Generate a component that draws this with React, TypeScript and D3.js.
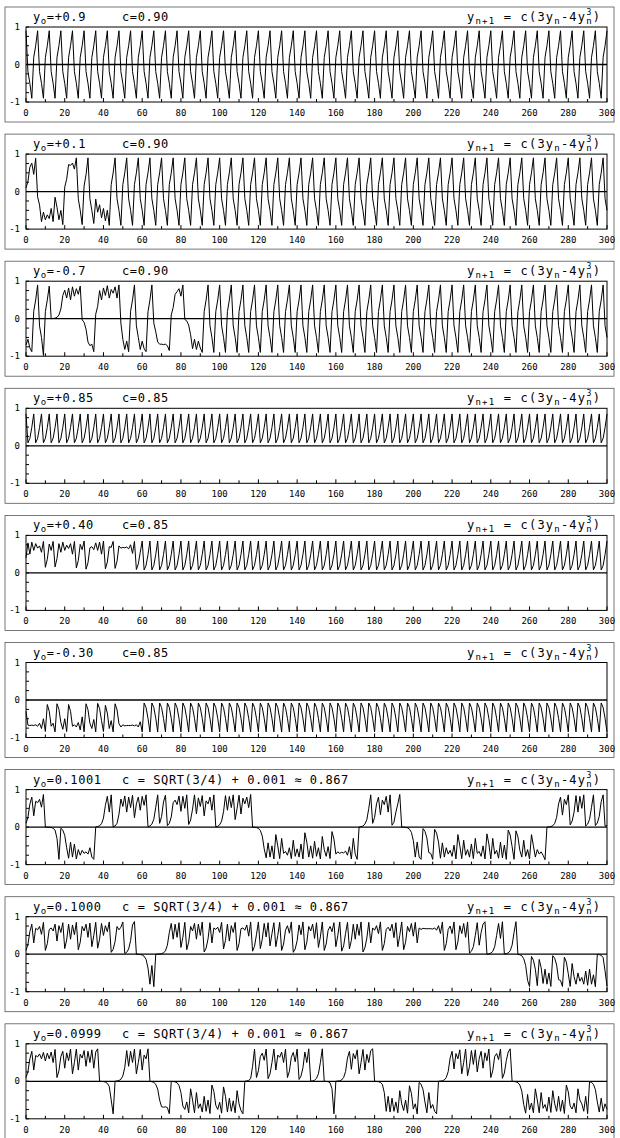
import React from "react";
import * as d3 from "d3";

// Iterates of the cubic map y(n+1) = c(3y(n) - 4y(n)^3), n = 0..300, one array per panel.

// y0 = +0.9, c = 0.90
const Y1: number[] = [
  .9,-.19,-.5,-.9,.19,.5,.9,-.19,-.5,-.9,
  .19,.5,.9,-.19,-.5,-.9,.19,.5,.9,-.19,
  -.5,-.9,.19,.5,.9,-.19,-.5,-.9,.19,.5,
  .9,-.19,-.5,-.9,.19,.5,.9,-.19,-.5,-.9,
  .19,.5,.9,-.19,-.5,-.9,.19,.5,.9,-.19,
  -.5,-.9,.19,.5,.9,-.19,-.5,-.9,.19,.5,
  .9,-.19,-.5,-.9,.19,.5,.9,-.19,-.5,-.9,
  .19,.5,.9,-.19,-.5,-.9,.19,.5,.9,-.19,
  -.5,-.9,.19,.5,.9,-.19,-.5,-.9,.19,.5,
  .9,-.19,-.5,-.9,.19,.5,.9,-.19,-.5,-.9,
  .19,.5,.9,-.19,-.5,-.9,.19,.5,.9,-.19,
  -.5,-.9,.19,.5,.9,-.19,-.5,-.9,.19,.5,
  .9,-.19,-.5,-.9,.19,.5,.9,-.19,-.5,-.9,
  .19,.5,.9,-.19,-.5,-.9,.19,.5,.9,-.19,
  -.5,-.9,.19,.5,.9,-.19,-.5,-.9,.19,.5,
  .9,-.19,-.5,-.9,.19,.5,.9,-.19,-.5,-.9,
  .19,.5,.9,-.19,-.5,-.9,.19,.5,.9,-.19,
  -.5,-.9,.19,.5,.9,-.19,-.5,-.9,.19,.5,
  .9,-.19,-.5,-.9,.19,.5,.9,-.19,-.5,-.9,
  .19,.5,.9,-.19,-.5,-.9,.19,.5,.9,-.19,
  -.5,-.9,.19,.5,.9,-.19,-.5,-.9,.19,.5,
  .9,-.19,-.5,-.9,.19,.5,.9,-.19,-.5,-.9,
  .19,.5,.9,-.19,-.5,-.9,.19,.5,.9,-.19,
  -.5,-.9,.19,.5,.9,-.19,-.5,-.9,.19,.5,
  .9,-.19,-.5,-.9,.19,.5,.9,-.19,-.5,-.9,
  .19,.5,.9,-.19,-.5,-.9,.19,.5,.9,-.19,
  -.5,-.9,.19,.5,.9,-.19,-.5,-.9,.19,.5,
  .9,-.19,-.5,-.9,.19,.5,.9,-.19,-.5,-.9,
  .19,.5,.9,-.19,-.5,-.9,.19,.5,.9,-.19,
  -.5,-.9,.19,.5,.9,-.19,-.5,-.9,.19,.5,
  .9,
];

// y0 = +0.1, c = 0.90
const Y2: number[] = [
  .1,.27,.65,.76,.46,.89,-.14,-.36,-.8,-.55,
  -.75,-.62,-.72,-.45,-.8,-.15,-.42,-.75,-.5,-.88,
  .12,.33,.72,.7,.76,.6,.9,-.19,-.5,-.88,
  .15,.45,.9,-.19,-.5,-.85,-.2,-.55,-.35,-.7,
  -.45,-.78,-.5,-.9,.19,.5,.9,-.19,-.5,-.9,
  .19,.5,.9,-.19,-.5,-.9,.19,.5,.9,-.19,
  -.5,-.9,.19,.5,.9,-.19,-.5,-.9,.19,.5,
  .9,-.19,-.5,-.9,.19,.5,.9,-.19,-.5,-.9,
  .19,.5,.9,-.19,-.5,-.9,.19,.5,.9,-.19,
  -.5,-.9,.19,.5,.9,-.19,-.5,-.9,.19,.5,
  .9,-.19,-.5,-.9,.19,.5,.9,-.19,-.5,-.9,
  .19,.5,.9,-.19,-.5,-.9,.19,.5,.9,-.19,
  -.5,-.9,.19,.5,.9,-.19,-.5,-.9,.19,.5,
  .9,-.19,-.5,-.9,.19,.5,.9,-.19,-.5,-.9,
  .19,.5,.9,-.19,-.5,-.9,.19,.5,.9,-.19,
  -.5,-.9,.19,.5,.9,-.19,-.5,-.9,.19,.5,
  .9,-.19,-.5,-.9,.19,.5,.9,-.19,-.5,-.9,
  .19,.5,.9,-.19,-.5,-.9,.19,.5,.9,-.19,
  -.5,-.9,.19,.5,.9,-.19,-.5,-.9,.19,.5,
  .9,-.19,-.5,-.9,.19,.5,.9,-.19,-.5,-.9,
  .19,.5,.9,-.19,-.5,-.9,.19,.5,.9,-.19,
  -.5,-.9,.19,.5,.9,-.19,-.5,-.9,.19,.5,
  .9,-.19,-.5,-.9,.19,.5,.9,-.19,-.5,-.9,
  .19,.5,.9,-.19,-.5,-.9,.19,.5,.9,-.19,
  -.5,-.9,.19,.5,.9,-.19,-.5,-.9,.19,.5,
  .9,-.19,-.5,-.9,.19,.5,.9,-.19,-.5,-.9,
  .19,.5,.9,-.19,-.5,-.9,.19,.5,.9,-.19,
  -.5,-.9,.19,.5,.9,-.19,-.5,-.9,.19,.5,
  .9,-.19,-.5,-.9,.19,.5,.9,-.19,-.5,-.9,
  .19,.5,.9,-.19,-.5,-.9,.19,.5,.9,-.19,
  -.5,
];

// y0 = -0.7, c = 0.90
const Y3: number[] = [
  -.7,-.55,-.78,-.88,.2,.5,.9,-.2,-.5,-.98,
  .19,.5,.87,.002,.005,.014,.037,.1,.26,.62,
  .76,.55,.82,.5,.85,.6,.8,.65,.87,-.03,
  -.1,-.28,-.62,-.72,-.68,-.88,.12,.33,.75,.5,
  .82,.62,.88,.55,.78,.68,.85,.55,.9,-.12,
  -.55,-.82,-.6,-.88,.2,.5,.9,-.19,-.5,-.82,
  -.6,-.8,-.88,.19,.5,.9,-.12,-.35,-.62,-.68,
  -.68,-.69,-.68,-.72,-.85,.1,.3,.65,.72,.8,
  .6,.9,-.02,-.06,-.17,-.43,-.8,-.55,-.82,-.6,
  -.78,-.9,.19,.5,.9,-.19,-.5,-.9,.19,.5,
  .9,-.19,-.5,-.9,.19,.5,.9,-.19,-.5,-.9,
  .19,.5,.9,-.19,-.5,-.9,.19,.5,.9,-.19,
  -.5,-.9,.19,.5,.9,-.19,-.5,-.9,.19,.5,
  .9,-.19,-.5,-.9,.19,.5,.9,-.19,-.5,-.9,
  .19,.5,.9,-.19,-.5,-.9,.19,.5,.9,-.19,
  -.5,-.9,.19,.5,.9,-.19,-.5,-.9,.19,.5,
  .9,-.19,-.5,-.9,.19,.5,.9,-.19,-.5,-.9,
  .19,.5,.9,-.19,-.5,-.9,.19,.5,.9,-.19,
  -.5,-.9,.19,.5,.9,-.19,-.5,-.9,.19,.5,
  .9,-.19,-.5,-.9,.19,.5,.9,-.19,-.5,-.9,
  .19,.5,.9,-.19,-.5,-.9,.19,.5,.9,-.19,
  -.5,-.9,.19,.5,.9,-.19,-.5,-.9,.19,.5,
  .9,-.19,-.5,-.9,.19,.5,.9,-.19,-.5,-.9,
  .19,.5,.9,-.19,-.5,-.9,.19,.5,.9,-.19,
  -.5,-.9,.19,.5,.9,-.19,-.5,-.9,.19,.5,
  .9,-.19,-.5,-.9,.19,.5,.9,-.19,-.5,-.9,
  .19,.5,.9,-.19,-.5,-.9,.19,.5,.9,-.19,
  -.5,-.9,.19,.5,.9,-.19,-.5,-.9,.19,.5,
  .9,-.19,-.5,-.9,.19,.5,.9,-.19,-.5,-.9,
  .19,.5,.9,-.19,-.5,-.9,.19,.5,.9,-.19,
  -.5,
];

// y0 = +0.85, c = 0.85
const Y4: number[] = [
  .85,.08,.2,.49,.85,.08,.2,.49,.85,.08,
  .2,.49,.85,.08,.2,.49,.85,.08,.2,.49,
  .85,.08,.2,.49,.85,.08,.2,.49,.85,.08,
  .2,.49,.85,.08,.2,.49,.85,.08,.2,.49,
  .85,.08,.2,.49,.85,.08,.2,.49,.85,.08,
  .2,.49,.85,.08,.2,.49,.85,.08,.2,.49,
  .85,.08,.2,.49,.85,.08,.2,.49,.85,.08,
  .2,.49,.85,.08,.2,.49,.85,.08,.2,.49,
  .85,.08,.2,.49,.85,.08,.2,.49,.85,.08,
  .2,.49,.85,.08,.2,.49,.85,.08,.2,.49,
  .85,.08,.2,.49,.85,.08,.2,.49,.85,.08,
  .2,.49,.85,.08,.2,.49,.85,.08,.2,.49,
  .85,.08,.2,.49,.85,.08,.2,.49,.85,.08,
  .2,.49,.85,.08,.2,.49,.85,.08,.2,.49,
  .85,.08,.2,.49,.85,.08,.2,.49,.85,.08,
  .2,.49,.85,.08,.2,.49,.85,.08,.2,.49,
  .85,.08,.2,.49,.85,.08,.2,.49,.85,.08,
  .2,.49,.85,.08,.2,.49,.85,.08,.2,.49,
  .85,.08,.2,.49,.85,.08,.2,.49,.85,.08,
  .2,.49,.85,.08,.2,.49,.85,.08,.2,.49,
  .85,.08,.2,.49,.85,.08,.2,.49,.85,.08,
  .2,.49,.85,.08,.2,.49,.85,.08,.2,.49,
  .85,.08,.2,.49,.85,.08,.2,.49,.85,.08,
  .2,.49,.85,.08,.2,.49,.85,.08,.2,.49,
  .85,.08,.2,.49,.85,.08,.2,.49,.85,.08,
  .2,.49,.85,.08,.2,.49,.85,.08,.2,.49,
  .85,.08,.2,.49,.85,.08,.2,.49,.85,.08,
  .2,.49,.85,.08,.2,.49,.85,.08,.2,.49,
  .85,.08,.2,.49,.85,.08,.2,.49,.85,.08,
  .2,.49,.85,.08,.2,.49,.85,.08,.2,.49,
  .85,
];

// y0 = +0.40, c = 0.85
const Y5: number[] = [
  .4,.8,.5,.82,.6,.78,.66,.72,.55,.84,
  .15,.36,.77,.6,.84,.16,.38,.78,.55,.82,
  .6,.74,.65,.78,.5,.84,.13,.33,.76,.62,
  .85,.1,.27,.67,.7,.62,.8,.6,.82,.5,
  .85,.11,.29,.7,.68,.84,.12,.31,.72,.66,
  .68,.67,.69,.64,.75,.52,.84,.09,.24,.55,
  .85,.08,.2,.49,.85,.08,.2,.49,.85,.08,
  .2,.49,.85,.08,.2,.49,.85,.08,.2,.49,
  .85,.08,.2,.49,.85,.08,.2,.49,.85,.08,
  .2,.49,.85,.08,.2,.49,.85,.08,.2,.49,
  .85,.08,.2,.49,.85,.08,.2,.49,.85,.08,
  .2,.49,.85,.08,.2,.49,.85,.08,.2,.49,
  .85,.08,.2,.49,.85,.08,.2,.49,.85,.08,
  .2,.49,.85,.08,.2,.49,.85,.08,.2,.49,
  .85,.08,.2,.49,.85,.08,.2,.49,.85,.08,
  .2,.49,.85,.08,.2,.49,.85,.08,.2,.49,
  .85,.08,.2,.49,.85,.08,.2,.49,.85,.08,
  .2,.49,.85,.08,.2,.49,.85,.08,.2,.49,
  .85,.08,.2,.49,.85,.08,.2,.49,.85,.08,
  .2,.49,.85,.08,.2,.49,.85,.08,.2,.49,
  .85,.08,.2,.49,.85,.08,.2,.49,.85,.08,
  .2,.49,.85,.08,.2,.49,.85,.08,.2,.49,
  .85,.08,.2,.49,.85,.08,.2,.49,.85,.08,
  .2,.49,.85,.08,.2,.49,.85,.08,.2,.49,
  .85,.08,.2,.49,.85,.08,.2,.49,.85,.08,
  .2,.49,.85,.08,.2,.49,.85,.08,.2,.49,
  .85,.08,.2,.49,.85,.08,.2,.49,.85,.08,
  .2,.49,.85,.08,.2,.49,.85,.08,.2,.49,
  .85,.08,.2,.49,.85,.08,.2,.49,.85,.08,
  .2,.49,.85,.08,.2,.49,.85,.08,.2,.49,
  .85,
];

// y0 = -0.30, c = 0.85
const Y6: number[] = [
  -.3,-.67,-.68,-.67,-.68,-.66,-.7,-.62,-.76,-.5,
  -.84,-.12,-.3,-.7,-.62,-.85,-.1,-.25,-.6,-.78,
  -.5,-.84,-.12,-.3,-.7,-.66,-.72,-.6,-.8,-.45,
  -.85,-.1,-.26,-.62,-.76,-.52,-.85,-.09,-.23,-.55,
  -.84,-.14,-.35,-.76,-.55,-.85,-.1,-.26,-.63,-.72,
  -.66,-.69,-.68,-.68,-.68,-.67,-.69,-.66,-.72,-.58,
  -.85,-.08,-.2,-.49,-.85,-.08,-.2,-.49,-.85,-.08,
  -.2,-.49,-.85,-.08,-.2,-.49,-.85,-.08,-.2,-.49,
  -.85,-.08,-.2,-.49,-.85,-.08,-.2,-.49,-.85,-.08,
  -.2,-.49,-.85,-.08,-.2,-.49,-.85,-.08,-.2,-.49,
  -.85,-.08,-.2,-.49,-.85,-.08,-.2,-.49,-.85,-.08,
  -.2,-.49,-.85,-.08,-.2,-.49,-.85,-.08,-.2,-.49,
  -.85,-.08,-.2,-.49,-.85,-.08,-.2,-.49,-.85,-.08,
  -.2,-.49,-.85,-.08,-.2,-.49,-.85,-.08,-.2,-.49,
  -.85,-.08,-.2,-.49,-.85,-.08,-.2,-.49,-.85,-.08,
  -.2,-.49,-.85,-.08,-.2,-.49,-.85,-.08,-.2,-.49,
  -.85,-.08,-.2,-.49,-.85,-.08,-.2,-.49,-.85,-.08,
  -.2,-.49,-.85,-.08,-.2,-.49,-.85,-.08,-.2,-.49,
  -.85,-.08,-.2,-.49,-.85,-.08,-.2,-.49,-.85,-.08,
  -.2,-.49,-.85,-.08,-.2,-.49,-.85,-.08,-.2,-.49,
  -.85,-.08,-.2,-.49,-.85,-.08,-.2,-.49,-.85,-.08,
  -.2,-.49,-.85,-.08,-.2,-.49,-.85,-.08,-.2,-.49,
  -.85,-.08,-.2,-.49,-.85,-.08,-.2,-.49,-.85,-.08,
  -.2,-.49,-.85,-.08,-.2,-.49,-.85,-.08,-.2,-.49,
  -.85,-.08,-.2,-.49,-.85,-.08,-.2,-.49,-.85,-.08,
  -.2,-.49,-.85,-.08,-.2,-.49,-.85,-.08,-.2,-.49,
  -.85,-.08,-.2,-.49,-.85,-.08,-.2,-.49,-.85,-.08,
  -.2,-.49,-.85,-.08,-.2,-.49,-.85,-.08,-.2,-.49,
  -.85,-.08,-.2,-.49,-.85,-.08,-.2,-.49,-.85,-.08,
  -.2,-.49,-.85,-.08,-.2,-.49,-.85,-.08,-.2,-.49,
  -.85,
];

// y0 = 0.1001, c = sqrt(3/4) + 0.001
const Y7: number[] = [
  .1,.26,.61,.8,.3,.69,.65,.74,.53,.87,
  0,-.001,-.004,-.01,-.03,-.08,-.3,-.86,-.03,-.08,
  -.22,-.55,-.83,-.4,-.8,-.45,-.85,-.6,-.75,-.62,
  -.7,-.66,-.72,-.55,-.8,-.86,.005,.013,.035,.09,
  .24,.58,.82,.4,.86,.01,.03,.1,.34,.75,
  .55,.83,.4,.8,.52,.85,.25,.62,.8,.45,
  .82,.58,.86,.01,.03,.08,.21,.53,.86,.1,
  .28,.67,.85,.04,.1,.27,.65,.72,.6,.83,
  .42,.82,.5,.86,.07,.19,.48,.86,.35,.78,
  .55,.84,.3,.7,.62,.8,.45,.86,.01,.02,
  .06,.16,.41,.84,.45,.82,.52,.86,.2,.5,
  .85,.35,.77,.62,.8,.52,.87,-.002,-.005,-.013,
  -.035,-.09,-.24,-.58,-.82,-.42,-.8,-.5,-.85,-.2,
  -.5,-.84,-.3,-.7,-.65,-.75,-.55,-.84,-.35,-.78,
  -.58,-.8,-.45,-.85,-.15,-.4,-.8,-.5,-.83,-.38,
  -.78,-.55,-.85,-.25,-.6,-.78,-.52,-.84,-.12,-.32,
  -.72,-.66,-.7,-.67,-.69,-.64,-.75,-.52,-.85,-.3,
  -.72,-.86,.004,.01,.03,.08,.2,.5,.86,.1,
  .26,.62,.8,.33,.72,.6,.82,.4,.86,.05,
  .13,.4,.62,.87,-.001,-.003,-.008,-.02,-.055,-.14,
  -.36,-.8,-.4,-.8,-.86,-.04,-.11,-.29,-.68,-.7,
  -.86,-.06,-.16,-.4,-.83,-.42,-.8,-.55,-.72,-.62,
  -.78,-.48,-.85,-.2,-.5,-.84,-.35,-.75,-.6,-.8,
  -.45,-.84,-.3,-.7,-.65,-.78,-.5,-.85,-.18,-.45,
  -.85,-.3,-.72,-.62,-.83,-.4,-.82,-.48,-.86,-.08,
  -.21,-.52,-.86,-.1,-.26,-.62,-.8,-.35,-.78,-.6,
  -.85,-.2,-.5,-.8,-.6,-.72,-.66,-.75,-.87,.002,
  .005,.014,.037,.1,.26,.62,.8,.32,.74,.6,
  .86,.06,.16,.4,.84,.4,.82,.5,.86,.03,
  .08,.21,.53,.86,.04,.11,.29,.68,.86,.02,
  .05,
];

// y0 = 0.1000, c = sqrt(3/4) + 0.001
const Y8: number[] = [
  .1,.26,.6,.8,.3,.69,.65,.74,.53,.85,
  .1,.28,.66,.7,.62,.8,.35,.76,.58,.84,
  .15,.38,.8,.4,.78,.52,.85,.12,.32,.74,
  .62,.8,.45,.83,.2,.5,.85,.16,.4,.82,
  .5,.76,.6,.86,.05,.13,.34,.74,.65,.72,
  .86,.02,.05,.14,.36,.78,.87,-.001,-.003,-.008,
  -.02,-.055,-.14,-.37,-.8,-.3,-.866,.001,.002,.005,
  .013,.035,.09,.24,.58,.82,.4,.8,.45,.84,
  .18,.45,.85,.12,.32,.74,.62,.82,.4,.8,
  .5,.86,.06,.16,.41,.84,.3,.7,.66,.72,
  .58,.85,.14,.37,.8,.35,.76,.58,.85,.1,
  .28,.68,.7,.64,.78,.48,.86,.08,.21,.52,
  .86,.15,.4,.82,.46,.84,.22,.55,.84,.2,
  .5,.85,.1,.27,.64,.76,.56,.86,.05,.14,
  .36,.78,.52,.86,.12,.32,.74,.62,.8,.42,
  .84,.18,.46,.86,.1,.27,.64,.74,.6,.84,
  .2,.5,.86,.08,.22,.55,.85,.14,.37,.8,
  .4,.8,.5,.86,.06,.17,.43,.85,.3,.7,
  .64,.76,.55,.86,.1,.28,.66,.72,.62,.8,
  .44,.84,.2,.5,.86,.12,.32,.74,.6,.82,
  .48,.85,.3,.7,.66,.69,.68,.68,.68,.68,
  .67,.7,.64,.76,.55,.86,.1,.28,.66,.75,
  .55,.86,.12,.33,.76,.55,.82,.45,.86,.03,
  .08,.2,.5,.84,.24,.58,.8,.866,.004,.01,
  .028,.075,.2,.5,.82,.42,.866,.005,.013,.035,
  .09,.24,.58,.867,-.005,-.015,-.04,-.12,-.3,-.7,
  -.86,-.06,-.16,-.4,-.84,-.14,-.36,-.78,-.4,-.8,
  -.5,-.86,-.04,-.11,-.29,-.68,-.7,-.86,-.08,-.21,
  -.52,-.86,-.25,-.6,-.8,-.5,-.72,-.62,-.8,-.45,
  -.83,-.4,-.8,-.55,-.867,-.004,-.012,-.03,-.09,-.45,
  -.85,
];

// y0 = 0.0999, c = sqrt(3/4) + 0.001
const Y9: number[] = [
  .1,.26,.6,.8,.3,.69,.65,.73,.6,.77,
  .54,.75,.6,.78,.5,.85,.1,.28,.66,.8,
  .35,.76,.55,.86,.2,.5,.86,.3,.72,.62,
  .82,.4,.8,.5,.84,.35,.78,.866,-.001,-.003,
  -.008,-.02,-.055,-.14,-.5,-.867,.003,.008,.02,.055,
  .14,.37,.82,.4,.8,.5,.86,.2,.5,.85,
  .3,.7,.6,.866,-.004,-.011,-.03,-.08,-.21,-.5,
  -.68,-.69,-.68,-.7,-.866,-.002,-.006,-.016,-.04,-.11,
  -.3,-.66,-.75,-.55,-.84,-.2,-.5,-.84,-.3,-.72,
  -.6,-.82,-.4,-.8,-.5,-.86,-.1,-.27,-.64,-.75,
  -.56,-.85,-.15,-.4,-.82,-.45,-.8,-.52,-.84,-.25,
  -.6,-.78,-.866,.003,.009,.025,.07,.4,.86,.1,
  .28,.66,.75,.56,.86,.07,.2,.5,.86,.3,
  .7,.64,.78,.5,.86,.1,.27,.64,.77,.52,
  .86,.05,.14,.36,.78,.5,.866,.004,.01,.03,
  .08,.2,.5,.866,-.001,-.003,-.01,-.04,-.2,-.866,
  .002,.005,.014,.037,.1,.26,.62,.8,.32,.74,
  .6,.84,.2,.5,.85,.3,.72,.5,.82,.867,
  -.001,-.004,-.01,-.03,-.08,-.3,-.8,-.4,-.82,-.45,
  -.8,-.55,-.84,-.25,-.6,-.78,-.5,-.85,-.12,-.32,
  -.74,-.6,-.87,-.03,-.08,-.22,-.55,-.84,-.3,-.72,
  -.62,-.8,-.866,.002,.005,.014,.037,.1,.26,.62,
  .8,.33,.74,.6,.84,.2,.5,.86,.15,.4,
  .82,.45,.84,.25,.6,.8,.35,.76,.55,.86,
  .1,.28,.66,.74,.58,.86,.08,.22,.55,.78,
  .866,-.002,-.005,-.014,-.037,-.1,-.26,-.62,-.85,-.35,
  -.76,-.58,-.84,-.2,-.5,-.84,-.3,-.72,-.62,-.8,
  -.42,-.83,-.25,-.6,-.8,-.4,-.8,-.5,-.86,-.1,
  -.28,-.66,-.74,-.58,-.84,-.2,-.5,-.6,-.8,-.4,
  -.866,-.01,-.03,-.08,-.22,-.55,-.82,-.45,-.8,-.6,
  -.75,
];

const SERIES = [Y1, Y2, Y3, Y4, Y5, Y6, Y7, Y8, Y9];

// Starting values (text after "y" with subscript o)
const Y0_LABELS = ["=+0.9", "=+0.1", "=-0.7", "=+0.85", "=+0.40", "=-0.30", "=0.1001", "=0.1000", "=0.0999"];
const C_LABELS = [
  "c=0.90", "c=0.90", "c=0.90",
  "c=0.85", "c=0.85", "c=0.85",
  "c = SQRT(3/4) + 0.001 \u2248 0.867",
  "c = SQRT(3/4) + 0.001 \u2248 0.867",
  "c = SQRT(3/4) + 0.001 \u2248 0.867",
];

const X_TICK_LABELS = [0, 20, 40, 60, 80, 100, 120, 140, 160, 180, 200, 220, 240, 260, 280, 300];
const X_MINOR_TICKS = d3.range(0, 301, 10);
const Y_TICK_LABELS = [1, 0, -1];
const Y_MINOR_TICKS = [-1, -0.75, -0.5, -0.25, 0, 0.25, 0.5, 0.75, 1];

const W = 620;
const H = 1138;
const PLOT_LEFT = 26;
const PLOT_RIGHT = 607;
const FIRST_TOP = 27;
const PANEL_STEP = 127.1;
const PLOT_H = 75;
const MONO = "'DejaVu Sans Mono', 'Liberation Mono', monospace";

export default function App() {
  const x = d3.scaleLinear().domain([0, 300]).range([PLOT_LEFT, PLOT_RIGHT]);

  return (
    <svg
      width={W}
      height={H}
      viewBox={`0 0 ${W} ${H}`}
      style={{ position: "absolute", left: 0, top: 0, background: "#fff" }}
    >
      <rect x={0} y={0} width={W} height={H} fill="#fff" />
      {SERIES.map((vals, i) => {
        const top = FIRST_TOP + i * PANEL_STEP;
        const bottom = top + PLOT_H;
        const y = d3.scaleLinear().domain([-1, 1]).range([bottom, top]);
        const path = d3
          .line<number>()
          .x((_, j) => x(j))
          .y((d) => y(d))(vals) as string;
        const titleY = top - 6;
        return (
          <g key={i}>
            {/* panel frame */}
            <rect
              x={5}
              y={top - 20}
              width={609}
              height={PLOT_H + 40}
              fill="none"
              stroke="#555"
              strokeWidth={0.8}
            />
            {/* plot area */}
            <rect
              x={x(0)}
              y={top}
              width={x(300) - x(0)}
              height={PLOT_H}
              fill="none"
              stroke="#000"
              strokeWidth={1}
            />
            <line x1={x(0)} x2={x(300)} y1={y(0)} y2={y(0)} stroke="#000" strokeWidth={1.3} />
            {Y_MINOR_TICKS.map((t) => (
              <line key={"yt" + t} x1={x(0)} x2={x(0) + 3} y1={y(t)} y2={y(t)} stroke="#000" strokeWidth={1} />
            ))}
            {X_MINOR_TICKS.map((t) => (
              <line
                key={"xt" + t}
                x1={x(t)}
                x2={x(t)}
                y1={bottom}
                y2={bottom - (t % 20 === 0 ? 4 : 3)}
                stroke="#000"
                strokeWidth={1}
              />
            ))}
            {Y_TICK_LABELS.map((t) => (
              <text
                key={"yl" + t}
                x={20}
                y={y(t) + 3}
                textAnchor="end"
                fontFamily={MONO}
                fontSize={9}
                fill="#000"
              >
                {t}
              </text>
            ))}
            {X_TICK_LABELS.map((t) => (
              <text
                key={"xl" + t}
                x={x(t)}
                y={bottom + 14}
                textAnchor="middle"
                fontFamily={MONO}
                fontSize={9}
                fill="#000"
              >
                {t}
              </text>
            ))}
            <path d={path} fill="none" stroke="#000" strokeWidth={1} strokeLinejoin="miter" />
            {/* titles */}
            <text x={33} y={titleY} fontFamily={MONO} fontSize={12} letterSpacing={0.6} fill="#000">
              y<tspan fontSize={9} dy={3}>o</tspan>
              <tspan dy={-3}>{Y0_LABELS[i]}</tspan>
            </text>
            <text x={122} y={titleY} fontFamily={MONO} fontSize={12} letterSpacing={0.6} fill="#000">
              {C_LABELS[i]}
            </text>
            <text x={467} y={titleY} fontFamily={MONO} fontSize={12} letterSpacing={1.2} fill="#000">
              y<tspan fontSize={9} dy={3}>n+1</tspan>
              <tspan dy={-3}> = c(3y</tspan>
              <tspan fontSize={9} dy={3}>n</tspan>
              <tspan dy={-3}>-4y</tspan>
              <tspan fontSize={9} dy={3}>n</tspan>
              <tspan fontSize={8} dx={-6.2} dy={-9}>3</tspan>
              <tspan dy={6}>)</tspan>
            </text>
          </g>
        );
      })}
    </svg>
  );
}
